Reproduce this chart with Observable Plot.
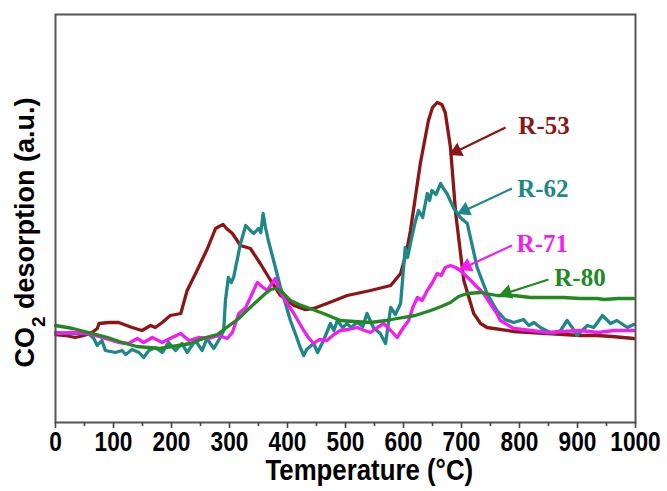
<!DOCTYPE html>
<html>
<head>
<meta charset="utf-8">
<script src="https://cdn.jsdelivr.net/npm/d3@7"></script>
<script src="https://cdn.jsdelivr.net/npm/@observablehq/plot@0.6"></script>
<style>
  html, body { margin: 0; padding: 0; background: #fff; }
  #chart svg { display: block; }
</style>
</head>
<body>
<div id="chart"></div>
<script>
// Temperature (°C), signal (a.u.)
const seriesNames = ["R-53", "R-62", "R-71", "R-80"];
const seriesColors = ["#8c1616", "#1f8787", "#f01ef0", "#208a20"];

const r53 = [[0,88],[17,87],[34,85],[49,87],[63,90],[72,94],[75,99],[92,100],[109,100],[132,95],[149,92],[164,97],[172,95],[184,100],[198,107],[216,109],[227,132],[244,152],[262,174],[276,194],[282,196],[289,198],[295,194],[305,189],[319,177],[336,174],[353,159],[371,142],[388,127],[411,117],[430,113],[445,114],[468,119],[503,127],[543,132],[578,137],[595,149],[605,170],[612,192],[629,259],[643,302],[650,315],[658,320],[666,318],[672,310],[681,275],[690,209],[704,142],[721,109],[733,99],[744,95],[790,91],[848,89],[905,87],[934,87],[960,86],[997,84]];

const r62 = [[0,90],[20,89],[34,89],[57,89],[66,84],[72,77],[80,82],[86,72],[103,70],[115,72],[121,68],[132,73],[144,70],[152,65],[161,72],[172,75],[184,70],[195,80],[207,72],[218,79],[227,70],[241,82],[253,72],[261,84],[273,74],[284,85],[290,92],[293,122],[298,145],[303,140],[307,145],[319,179],[328,197],[336,192],[342,189],[350,194],[354,190],[358,209],[362,195],[367,182],[376,162],[388,135],[397,118],[405,102],[414,88],[422,75],[428,67],[433,73],[437,75],[445,79],[452,70],[462,82],[474,99],[480,92],[486,102],[495,95],[503,99],[509,95],[520,100],[530,96],[537,109],[548,95],[560,89],[569,79],[578,115],[586,108],[595,119],[603,175],[607,165],[612,179],[620,200],[626,212],[633,205],[641,229],[645,222],[649,232],[656,228],[664,239],[670,233],[675,229],[686,215],[698,205],[710,199],[727,155],[744,129],[761,112],[775,103],[790,100],[807,103],[816,97],[825,100],[836,95],[856,89],[871,92],[882,102],[891,95],[899,87],[917,97],[928,95],[943,107],[957,99],[968,102],[986,95],[997,98]];

const r71 = [[0,89],[29,90],[57,89],[80,85],[109,80],[126,79],[141,84],[152,80],[167,85],[184,80],[201,85],[216,89],[230,82],[247,85],[264,84],[282,87],[296,84],[305,90],[316,109],[328,115],[336,125],[348,140],[356,136],[365,132],[372,138],[379,144],[386,132],[393,125],[411,109],[420,100],[428,92],[436,85],[445,79],[455,83],[468,82],[480,88],[491,92],[505,93],[520,95],[533,92],[543,90],[555,95],[566,99],[578,92],[589,85],[600,95],[609,102],[616,115],[624,125],[632,122],[641,132],[650,140],[658,149],[665,147],[672,155],[681,157],[690,155],[698,152],[716,142],[738,129],[761,109],[767,102],[790,94],[820,92],[848,90],[875,91],[905,92],[935,90],[963,92],[997,92]];

const r80 = [[0,97],[30,94],[57,90],[90,85],[115,80],[140,76],[161,75],[180,74],[201,76],[233,79],[259,85],[279,88],[295,95],[316,104],[330,112],[345,120],[360,128],[371,133],[380,134],[388,132],[405,122],[420,118],[434,115],[462,109],[491,102],[515,101],[543,100],[570,102],[589,104],[620,107],[647,112],[665,116],[681,120],[695,126],[710,129],[733,130],[761,127],[790,127],[819,125],[848,125],[876,125],[905,124],[934,124],[946,123],[970,124],[997,124]];

const xTicks = [0, 100, 200, 300, 400, 500, 600, 700, 800, 900, 1000];
const xMinorTicks = [50, 150, 250, 350, 450, 550, 650, 750, 850, 950];
const xTitle = "Temperature (°C)";
const yTitle = "CO2 desorption (a.u.)";

// label annotations: label text position and arrow (start -> tip)
const labelX = [798, 796, 795, 860];
const labelY = [289, 226, 171, 137];
const arrowX1 = [776, 787, 787, 850];
const arrowY1 = [295, 234, 177, 143];
const arrowX2 = [684, 698, 701, 770];
const arrowY2 = [269, 210, 154, 128];

const W = 667, H = 491, ML = 55, MR = 32, MT = 14, MB = 69;
const yMax = 408;
const kx = (W - ML - MR) / 1000, ky = (H - MT - MB) / yMax;

const allSeries = [r53, r62, r71, r80];
const lineData = [];
allSeries.forEach((s, i) => s.forEach(([t, v]) => lineData.push({t, v, name: seriesNames[i]})));

const labels = seriesNames.map((n, i) => ({name: n, x: labelX[i], y: labelY[i], color: seriesColors[i]}));
const arrows = seriesNames.map((n, i) => {
  const dxp = (arrowX2[i] - arrowX1[i]) * kx;
  const dyp = -(arrowY2[i] - arrowY1[i]) * ky;
  const th = Math.atan2(dyp, dxp);
  const back = 5;
  return {
    name: n, color: seriesColors[i],
    x1: arrowX1[i], y1: arrowY1[i], x2: arrowX2[i], y2: arrowY2[i],
    hx: arrowX2[i] - Math.cos(th) * back / kx,
    hy: arrowY2[i] + Math.sin(th) * back / ky,
    rot: th * 180 / Math.PI + 90
  };
});

const sans = "'Liberation Sans', Arial, sans-serif";

const plot = Plot.plot({
  width: W, height: H,
  marginLeft: ML, marginRight: MR, marginTop: MT, marginBottom: MB,
  x: {domain: [0, 1000]},
  y: {domain: [0, yMax], axis: null},
  color: {domain: seriesNames, range: seriesColors},
  marks: [
    Plot.line(lineData, {x: "t", y: "v", z: "name", stroke: "name", strokeWidth: 3.3, strokeLinejoin: "round", strokeLinecap: "round"}),
    Plot.link(arrows, {x1: "x1", y1: "y1", x2: "hx", y2: "hy", stroke: "color", strokeWidth: 2.2}),
    Plot.dot(arrows, {x: "hx", y: "hy", symbol: "triangle", r: 5.5, fill: "color", stroke: null, rotate: "rot"}),
    Plot.text(labels, {x: "x", y: "y", text: "name", fill: "color", textAnchor: "start", lineAnchor: "bottom",
      fontFamily: "'Liberation Serif', 'Times New Roman', serif", fontWeight: "bold", fontSize: 25}),
    Plot.frame({stroke: "#555", strokeWidth: 2}),
    Plot.axisX(xTicks, {tickSize: 6, tickPadding: 3, stroke: "#444", strokeWidth: 1.6, fill: "#000",
      tickFormat: d => String(d), fontFamily: sans, fontWeight: "bold", fontSize: 27, label: null}),
    Plot.axisX(xMinorTicks, {tickSize: 4, text: null, stroke: "#444", strokeWidth: 1.6, label: null}),
    Plot.text([xTitle], {x: 541, frameAnchor: "bottom", dy: 48, lineAnchor: "middle", textAnchor: "middle", text: d => d, fill: "#000",
      fontFamily: sans, fontWeight: "bold", fontSize: 29}),
    Plot.text([yTitle], {frameAnchor: "left", y: 190, dx: -30, rotate: -90, textAnchor: "middle", lineAnchor: "middle", text: d => d, fill: "#000",
      fontFamily: sans, fontWeight: "bold", fontSize: 27})
  ]
});

document.getElementById("chart").appendChild(plot);

// horizontally condense text (the reference uses a narrow bold face)
function condense(node, s) {
  const el = d3.select(node);
  let tr = el.attr("transform");
  if (!tr) {
    const x = +el.attr("x") || 0, y = +el.attr("y") || 0;
    el.attr("x", null).attr("y", null);
    tr = `translate(${x},${y})`;
  }
  el.attr("transform", `${tr} scale(${s},1)`);
}
const tickSet = new Set(xTicks.map(String));
d3.select(plot).selectAll("text").each(function() {
  const txt = this.textContent;
  if (tickSet.has(txt)) condense(this, 0.84);
  else if (txt === xTitle) condense(this, 0.89);
});

// subscript "2" in CO2
d3.select(plot).selectAll("text").filter(function() { return this.textContent === yTitle; }).each(function() {
  const t = d3.select(this);
  t.text(null);
  t.append("tspan").text("CO");
  t.append("tspan").attr("baseline-shift", "sub").attr("font-size", "70%").text("2");
  t.append("tspan").text(" desorption (a.u.)");
});
</script>
</body>
</html>
